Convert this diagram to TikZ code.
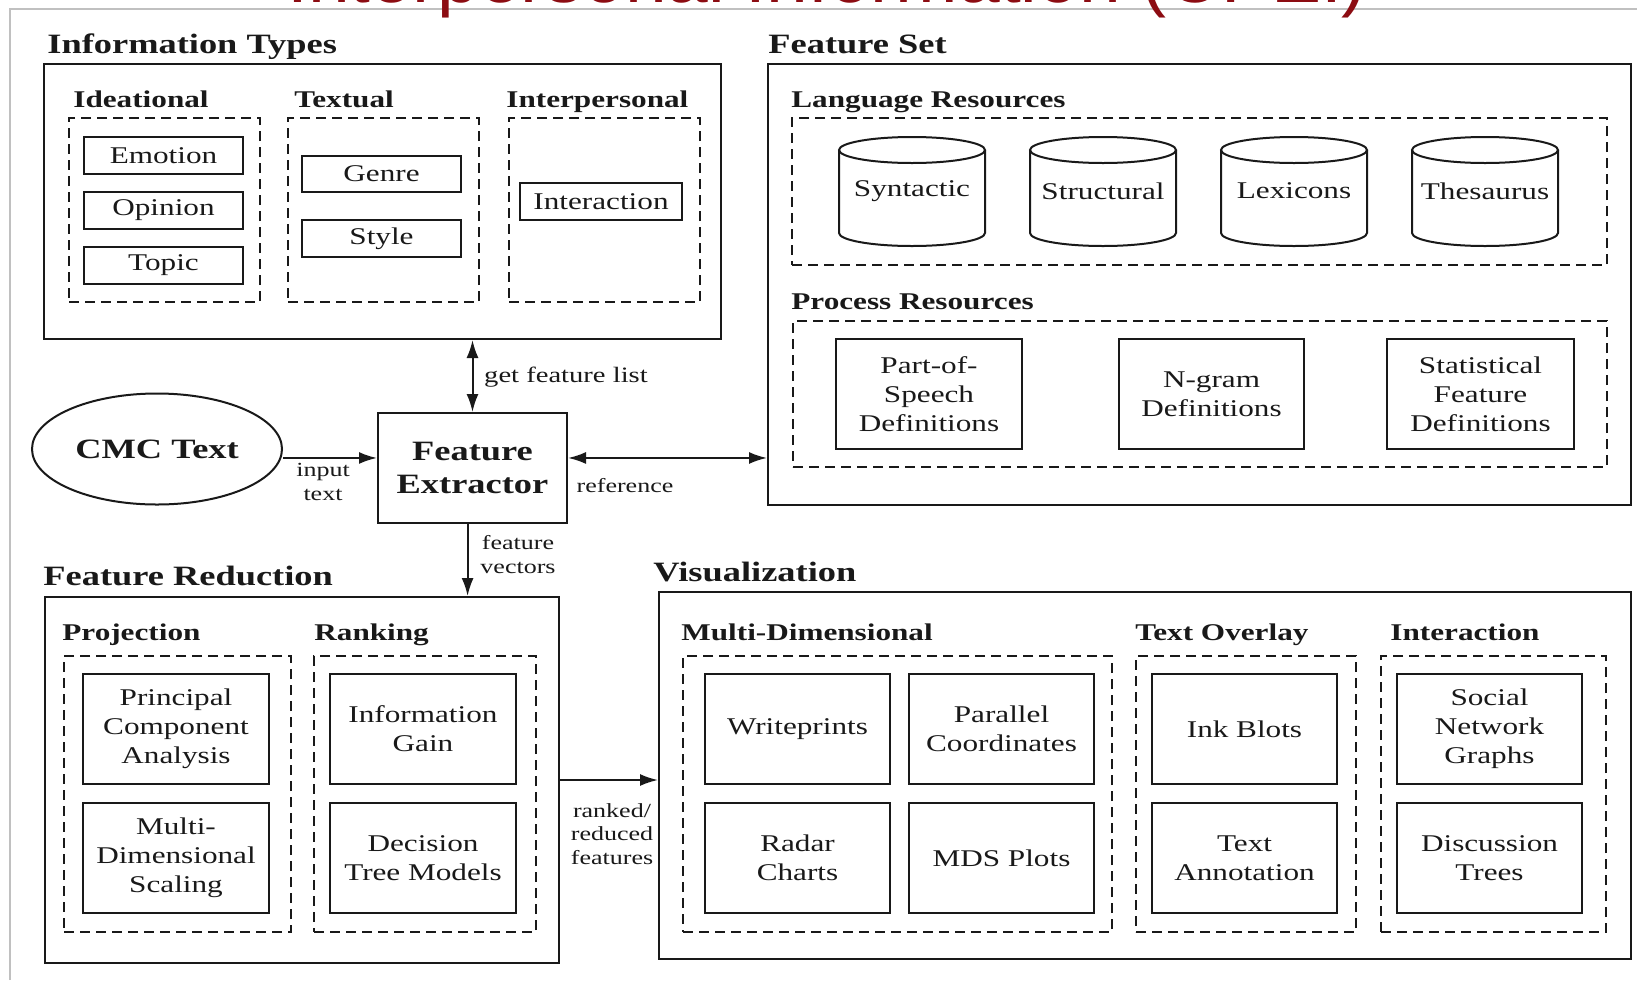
\documentclass[tikz,border=0pt]{standalone}
\usepackage{fontspec}
\setmainfont[FakeStretch=1.3]{Liberation Serif}
\newfontfamily\titlefont{Liberation Sans}
\usetikzlibrary{shapes.geometric,arrows.meta}

\definecolor{ink}{RGB}{25,25,25}
\definecolor{framegray}{RGB}{192,192,192}
\definecolor{titlered}{RGB}{140,12,18}

\tikzset{
  ln/.style={draw=ink, line width=1pt},
  box/.style={ln, inner sep=0pt, align=center, text=ink,
              font=\fontsize{12}{14.5}\selectfont},
  plain/.style={inner sep=0pt, align=center, text=ink,
              font=\fontsize{12}{14.5}\selectfont},
  dbox/.style={dash pattern=on 5pt off 3pt},
  head/.style={anchor=base west, inner sep=0pt, text=ink,
              font=\fontsize{14}{16}\selectfont\bfseries},
  subhead/.style={anchor=base west, inner sep=0pt, text=ink,
              font=\fontsize{12}{14}\selectfont\bfseries},
  lbl/.style={inner sep=0pt, align=center, text=ink,
              font=\fontsize{10}{12}\selectfont},
  arr/.style={draw=ink, line width=1pt, -{Latex[length=9pt,width=6pt]}},
  darr/.style={draw=ink, line width=1pt,
              {Latex[length=9pt,width=6pt]}-{Latex[length=9pt,width=6pt]}},
}

% rectangular node spanning two corners (pixel units, y downwards)
\newcommand{\bxnode}[7][]{%
  \pgfmathsetmacro\bxcx{(#3+#5)/2}%
  \pgfmathsetmacro\bxcy{(#4+#6)/2}%
  \pgfmathsetmacro\bxw{(#5-#3)/2}%
  \pgfmathsetmacro\bxh{(#6-#4)/2}%
  \node[box, minimum width=\bxw pt, minimum height=\bxh pt, #1] (#2) at (\bxcx,\bxcy) {#7};}
% upright cylinder (database) with a centred label
\newcommand{\drum}[3]{%
  \pgfmathsetmacro\drumL{#2-73}%
  \pgfmathsetmacro\drumR{#2+73}%
  \draw[ln] (\drumL,150) -- (\drumL,233)
     arc[start angle=180, end angle=360, x radius=36.5pt, y radius=6.5pt]
     -- (\drumR,150);
  \draw[ln] (#2,150) ellipse[x radius=36.5pt, y radius=6.5pt];
  \node[plain] (#1) at (#2,191) {#3};
}

\begin{document}
\begin{tikzpicture}[x=0.5pt, y=-0.5pt]
\clip (0,0) rectangle (1637,980);
\fill[white] (0,0) rectangle (1637,980);

% slide frame and title
\draw[framegray, line width=1.25pt] (10,980) -- (10,9) -- (1637,9);
\node[anchor=base west, inner sep=0pt, text=titlered,
      font=\titlefont\fontsize{37.5}{40}\selectfont] (title) at (287,2)
      {Interpersonal Information (CPEI)};

% ---------------- Information Types ----------------
\node[head] (ithead) at (47,53) {Information Types};
\bxnode{it}{44}{64}{721}{339}{}
\node[subhead] (idhead) at (73,107) {Ideational};
\node[subhead] (txhead) at (294,107) {Textual};
\node[subhead] (iphead) at (506,107) {Interpersonal};
\bxnode[dbox]{ideational}{69}{118}{260}{302}{}
\bxnode[dbox]{textual}{288}{118}{479}{302}{}
\bxnode[dbox]{interpersonal}{509}{118}{700}{302}{}
\bxnode{emotion}{84}{137}{243}{174}{Emotion}
\bxnode{opinion}{84}{192}{243}{229}{Opinion}
\bxnode{topic}{84}{247}{243}{284}{Topic}
\bxnode{genre}{302}{156}{461}{192}{Genre}
\bxnode{style}{302}{220}{461}{257}{Style}
\bxnode{interaction}{520}{183}{682}{220}{Interaction}

% ---------------- Feature Set ----------------
\node[head] (fshead) at (768,53) {Feature Set};
\bxnode{fs}{768}{64}{1631}{505}{}
\node[subhead] (lrhead) at (791,107) {Language Resources};
\bxnode[dbox]{langres}{792}{118}{1607}{265}{}
\drum{syntactic}{912}{Syntactic}
\drum{structural}{1103}{Structural}
\drum{lexicons}{1294}{Lexicons}
\drum{thesaurus}{1485}{Thesaurus}
\node[subhead] (prhead) at (791,309) {Process Resources};
\bxnode[dbox]{procres}{793}{321}{1607}{467}{}
\bxnode{pos}{836}{339}{1022}{449}{Part-of-\\Speech\\Definitions}
\bxnode{ngram}{1119}{339}{1304}{449}{N-gram\\Definitions}
\bxnode{statdef}{1387}{339}{1574}{449}{Statistical\\Feature\\Definitions}

% ---------------- centre row ----------------
\node[ellipse, ln, minimum width=125pt, minimum height=55.5pt, inner sep=0pt,
      text=ink, font=\fontsize{14}{16}\selectfont\bfseries] (cmc) at (157,449) {CMC Text};
\bxnode[font=\fontsize{14}{16.5}\selectfont\bfseries]{fe}{378}{413}{567}{523}{Feature\\Extractor}

% ---------------- Feature Reduction ----------------
\node[head] (frhead) at (43,585) {Feature Reduction};
\bxnode{fr}{45}{597}{559}{963}{}
\node[subhead] (pjhead) at (62,640) {Projection};
\node[subhead] (rkhead) at (314,640) {Ranking};
\bxnode[dbox]{projection}{64}{656}{291}{932}{}
\bxnode[dbox]{ranking}{314}{656}{536}{932}{}
\bxnode{pca}{83}{674}{269}{784}{Principal\\Component\\Analysis}
\bxnode{mds}{83}{803}{269}{913}{Multi-\\Dimensional\\Scaling}
\bxnode{infogain}{330}{674}{516}{784}{Information\\Gain}
\bxnode{dtree}{330}{803}{516}{913}{Decision\\Tree Models}

% ---------------- Visualization ----------------
\node[head] (vizhead) at (653,581) {Visualization};
\bxnode{viz}{659}{592}{1631}{959}{}
\node[subhead] (mdhead) at (681,640) {Multi-Dimensional};
\node[subhead] (tohead) at (1135,640) {Text Overlay};
\node[subhead] (inhead) at (1390,640) {Interaction};
\bxnode[dbox]{multidim}{683}{656}{1112}{932}{}
\bxnode[dbox]{overlay}{1136}{656}{1356}{932}{}
\bxnode[dbox]{vinteraction}{1381}{656}{1606}{932}{}
\bxnode{writeprints}{705}{674}{890}{784}{Writeprints}
\bxnode{parallel}{909}{674}{1094}{784}{Parallel\\Coordinates}
\bxnode{radar}{705}{803}{890}{913}{Radar\\Charts}
\bxnode{mdsplots}{909}{803}{1094}{913}{MDS Plots}
\bxnode{inkblots}{1152}{674}{1337}{784}{Ink Blots}
\bxnode{textann}{1152}{803}{1337}{913}{Text\\Annotation}
\bxnode{social}{1397}{674}{1582}{784}{Social\\Network\\Graphs}
\bxnode{discussion}{1397}{803}{1582}{913}{Discussion\\Trees}

% ---------------- connectors ----------------
\draw[arr] (cmc.east |- fe.174) -- (fe.174);
\draw[darr] (fe.6) -- (fe.6 -| fs.west);
\draw[darr] (fe.north) -- (fe.north |- it.south);
\draw[arr] (fe.265) -- (fe.265 |- fr.north);
\draw[arr] (fr.east) -- (fr.east -| viz.west);

% connector labels
\node[lbl] (lblinput) at (323,482) {input\\text};
\node[lbl, anchor=base] (lblref) at (625,492) {reference};
\node[lbl, anchor=base, font=\fontsize{11}{13}\selectfont] (lblget) at (566,382) {get feature list};
\node[lbl] (lblvec) at (518,555) {feature\\vectors};
\node[lbl, font=\fontsize{10}{11.75}\selectfont] (lblrank) at (612,834) {ranked/\\reduced\\features};
\end{tikzpicture}
\end{document}
